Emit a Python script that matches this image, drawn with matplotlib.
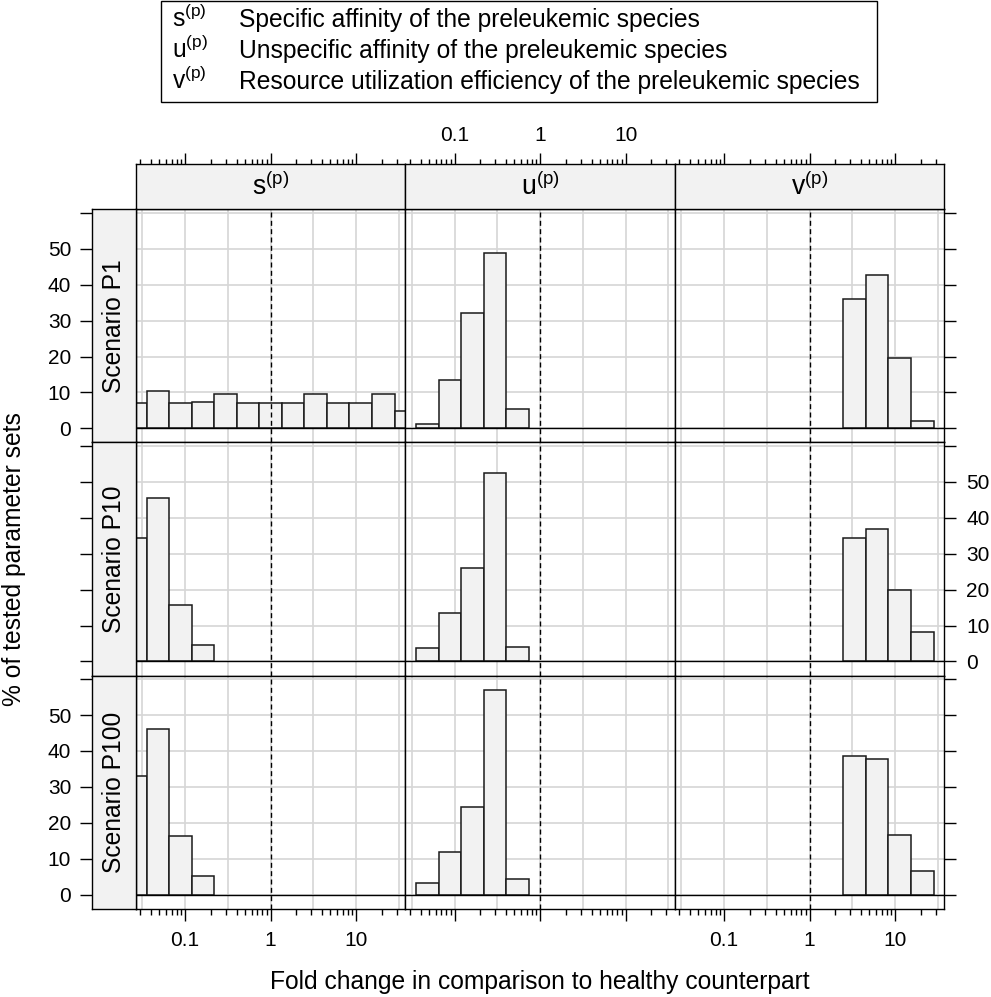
import numpy as np
import matplotlib
matplotlib.use('Agg')
import matplotlib.pyplot as plt
from matplotlib.patches import Rectangle
from matplotlib.ticker import LogLocator, NullFormatter

plt.rcParams['font.family'] = ['Liberation Sans', 'DejaVu Sans']
plt.rcParams['mathtext.fontset'] = 'custom'
plt.rcParams['mathtext.rm'] = 'Liberation Sans'
plt.rcParams['mathtext.it'] = 'Liberation Sans:italic'
plt.rcParams['mathtext.bf'] = 'Liberation Sans:bold'

# ---------------- data ----------------
# histogram bin edges (log10 of fold change)
log10_bin_edges = [-1.713, -1.449, -1.186, -0.922, -0.659, -0.395, -0.132,
                   0.132, 0.395, 0.659, 0.922, 1.186, 1.449, 1.713]
parameters = ['s', 'u', 'v']
scenarios = ['Scenario P1', 'Scenario P10', 'Scenario P100']
legend_desc = ['Specific affinity of the preleukemic species',
               'Unspecific affinity of the preleukemic species',
               'Resource utilization efficiency of the preleukemic species']
# % of tested parameter sets per bin (rows: P1, P10, P100)
s_pct = [[7.1, 10.3, 7.1, 7.25, 9.6, 7.2, 7.2, 7.2, 9.6, 7.2, 7.2, 9.6, 4.9],
         [34.5, 45.6, 15.6, 4.5, 0, 0, 0, 0, 0, 0, 0, 0, 0],
         [33.0, 46.0, 16.2, 5.1, 0, 0, 0, 0, 0, 0, 0, 0, 0]]
u_pct = [[0, 1.2, 13.6, 32.0, 48.7, 5.5, 0, 0, 0, 0, 0, 0, 0],
         [0, 3.8, 13.6, 26.1, 52.6, 3.9, 0, 0, 0, 0, 0, 0, 0],
         [0, 3.1, 11.8, 24.3, 57.0, 4.4, 0, 0, 0, 0, 0, 0, 0]]
v_pct = [[0, 0, 0, 0, 0, 0, 0, 0, 36.0, 42.7, 19.7, 2.1, 0],
         [0, 0, 0, 0, 0, 0, 0, 0, 34.4, 36.9, 19.9, 8.3, 0],
         [0, 0, 0, 0, 0, 0, 0, 0, 38.7, 37.8, 16.6, 6.5, 0]]
all_pct = [s_pct, u_pct, v_pct]
y_ticks = [0, 10, 20, 30, 40, 50, 60]
y_tick_labels = ['0', '10', '20', '30', '40', '50', '']
x_major_ticks = [0.1, 1, 10]
x_major_labels = ['0.1', '1', '10']
x_grid = [10 ** -1.5, 0.1, 10 ** -0.5, 1, 10 ** 0.5, 10, 10 ** 1.5]

# ---------------- layout ----------------
W, H = 991, 997
fig = plt.figure(figsize=(W / 100, H / 100), dpi=100)


def rect(x0, y0, x1, y1):
    return [x0 / W, 1 - y1 / H, (x1 - x0) / W, (y1 - y0) / H]


cols = [135.9, 405.4, 674.9, 944.4]
rows = [209.3, 442.4, 675.5, 908.6]
strip_top = (164.3, 209.3)
strip_left = (91.7, 135.9)
XL = (10 ** -1.576, 10 ** 1.576)
YL = (-3.9, 61.0)

strip_fc = '#f2f2f2'
bar_fc = '#f2f2f2'
grid_c = '#d6d6d6'
FS = 17.7
TFS = 15
LW = 1.0

edges = 10.0 ** np.array(log10_bin_edges)


def minor_locator():
    return LogLocator(base=10, subs=np.arange(2, 10), numticks=50)


for r in range(3):
    for c in range(3):
        ax = fig.add_axes(rect(cols[c], rows[r], cols[c + 1], rows[r + 1]))
        ax.set_xscale('log')
        ax.set_xlim(*XL)
        ax.set_ylim(*YL)
        for g in x_grid:
            ax.axvline(g, color=grid_c, lw=1.2, zorder=0)
        for h in y_ticks:
            ax.axhline(h, color=grid_c, lw=1.2, zorder=0)
        vals = np.array(all_pct[c][r])
        m = vals > 0
        ax.bar(edges[:-1][m], vals[m], width=np.diff(edges)[m], align='edge',
               facecolor=bar_fc, edgecolor='#1a1a1a', linewidth=1.1, zorder=2)
        ax.axhline(0, color='black', lw=LW, zorder=3)
        ax.axvline(1, color='black', lw=LW, ls=(0, (3.6, 2.4)), zorder=3)
        ax.set_xticks(x_major_ticks)
        ax.set_xticklabels(x_major_labels)
        ax.xaxis.set_minor_locator(minor_locator())
        ax.xaxis.set_minor_formatter(NullFormatter())
        ax.set_yticks(y_ticks)
        ax.set_yticklabels(y_tick_labels)
        ax.tick_params(axis='x', which='both', direction='out', top=False,
                       bottom=(r == 2), labelbottom=(r == 2 and c != 1),
                       labelsize=TFS, pad=8, width=LW, colors='black')
        ax.tick_params(axis='x', which='major', length=8.4)
        ax.tick_params(axis='x', which='minor', length=4.6)
        ax.tick_params(axis='y', which='both', direction='out', left=False,
                       labelleft=False, right=(c == 2),
                       labelright=(c == 2 and r == 1), length=8.8,
                       width=LW, labelsize=TFS, pad=7)
        for sp in ax.spines.values():
            sp.set_linewidth(LW)
            sp.set_zorder(4)

# top strips with top axis
for c in range(3):
    ax = fig.add_axes(rect(cols[c], strip_top[0], cols[c + 1], strip_top[1]))
    ax.set_facecolor(strip_fc)
    ax.set_xscale('log')
    ax.set_xlim(*XL)
    ax.set_ylim(0, 1)
    ax.set_yticks([])
    ax.set_xticks(x_major_ticks)
    ax.set_xticklabels(x_major_labels)
    ax.xaxis.set_minor_locator(minor_locator())
    ax.xaxis.set_minor_formatter(NullFormatter())
    ax.tick_params(axis='x', which='both', direction='out', bottom=False,
                   labelbottom=False, top=True, labeltop=(c == 1),
                   labelsize=TFS, pad=6, width=LW)
    ax.tick_params(axis='x', which='major', length=8.2)
    ax.tick_params(axis='x', which='minor', length=3.8)
    for sp in ax.spines.values():
        sp.set_linewidth(LW)
    ax.text(0.5, 0.5, r'$\mathrm{' + parameters[c] + r'}^{\mathrm{(p)}}$',
            transform=ax.transAxes, ha='center', va='center', fontsize=FS + 1.5)

# left strips with left axis
for r in range(3):
    ax = fig.add_axes(rect(strip_left[0], rows[r], strip_left[1], rows[r + 1]))
    ax.set_facecolor(strip_fc)
    ax.set_xlim(0, 1)
    ax.set_ylim(*YL)
    ax.set_xticks([])
    ax.set_yticks(y_ticks)
    ax.set_yticklabels(y_tick_labels)
    ax.tick_params(axis='y', which='both', direction='out', left=True,
                   labelleft=(r != 1), right=False, length=8.8, width=LW,
                   labelsize=TFS, pad=6)
    for sp in ax.spines.values():
        sp.set_linewidth(LW)
    ax.text(0.5, 0.5, scenarios[r], transform=ax.transAxes, rotation=90,
            ha='center', va='center', fontsize=FS)

# axis labels
fig.text(540 / W, 1 - 982 / H, 'Fold change in comparison to healthy counterpart',
         ha='center', va='center', fontsize=FS)
fig.text(14 / W, 1 - 559 / H, '% of tested parameter sets', rotation=90,
         ha='center', va='center', fontsize=FS)

# legend box
fig.patches.append(Rectangle((160.7 / W, 1 - 102 / H), (877 - 160.7) / W,
                             (102 - 0.7) / H, transform=fig.transFigure,
                             fill=False, edgecolor='black', lw=LW))
for i, p in enumerate(parameters):
    yb = 1 - (27 + 31 * i) / H
    fig.text(172 / W, yb, r'$\mathrm{' + p + r'}^{\mathrm{(p)}}$',
             ha='left', va='baseline', fontsize=FS)
    fig.text(239 / W, yb, legend_desc[i], ha='left', va='baseline',
             fontsize=FS)

fig.savefig('out.png', dpi=100)
